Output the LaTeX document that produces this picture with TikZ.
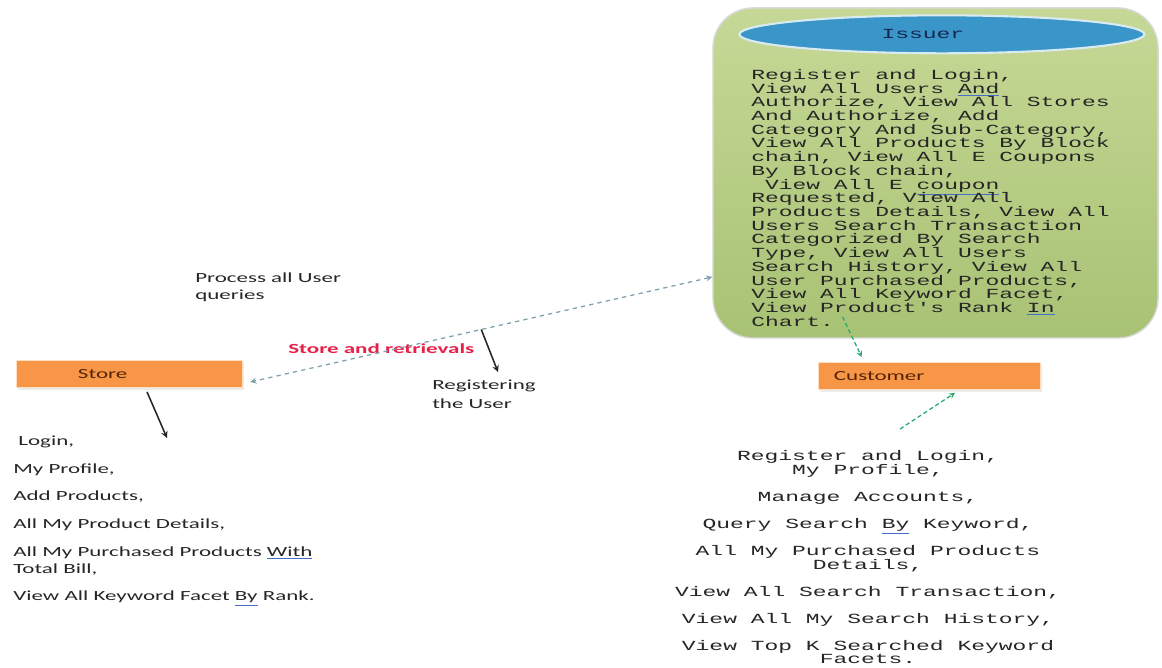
\documentclass[tikz,border=0pt]{standalone}
\usepackage{fontspec}
\newfontfamily\calfont{Carlito}[FakeStretch=1.65]
\newfontfamily\courfont{Liberation Mono}[FakeStretch=1.65]
\usetikzlibrary{calc, positioning, shapes.geometric, shadows}
\definecolor{roleorange}{RGB}{247,150,70}
\definecolor{roletext}{RGB}{85,35,5}
\definecolor{issuertop}{RGB}{198,216,150}
\definecolor{issuerbot}{RGB}{168,194,116}
\definecolor{headblue}{RGB}{58,150,200}
\definecolor{storered}{RGB}{232,32,72}
\definecolor{linkgray}{RGB}{125,160,172}
\definecolor{linkgreen}{RGB}{40,170,110}
\definecolor{markblue}{RGB}{70,110,200}
\newcommand\gmark[1]{\colorlet{gmsave}{.}\smash{\textcolor{markblue}{\underline{\textcolor{gmsave}{#1}}}}}
\tikzset{
issuerbox/.style={
	draw=gray!30,
	line width=1pt,
	rounded corners=1cm,
	top color=issuertop,
	bottom color=issuerbot,
	minimum width=11.125cm,
	minimum height=8.25cm,
},
issuerhead/.style={
	ellipse,
	draw={rgb,255:red,215;green,235;blue,240},
	line width=1.5pt,
	fill=headblue,
	inner sep=0pt,
	minimum width=10.125cm,
	minimum height=0.95cm,
	text={rgb,255:red,20;green,40;blue,80},
	font=\courfont\fontsize{9.9}{10}\selectfont,
},
rolebox/.style={
	fill=roleorange,
	draw=orange!25,
	inner xsep=0pt,
	inner ysep=0pt,
	align=left,
	minimum height=0.68cm,
	text=roletext,
	font=\calfont\fontsize{9.9}{11}\selectfont,
	drop shadow={shadow xshift=1.5pt, shadow yshift=-1.5pt, fill=gray!30},
},
monolist/.style={
	inner sep=0pt,
	text=black!85,
	font=\courfont\fontsize{9.9}{9.75}\selectfont,
},
note/.style={
	inner sep=0pt,
	align=left,
	text=black!85,
	font=\calfont\fontsize{9.9}{12.1}\selectfont,
},
arrowblack/.style={
	-stealth,
	line width=1.1pt,
	black!85,
},
linkdash/.style={
	stealth-stealth,
	dashed,
	line width=0.9pt,
	linkgray,
},
greendash/.style={
	-stealth,
	densely dashed,
	line width=0.9pt,
	linkgreen,
}
}

\begin{document}
\begin{tikzpicture}[x=0.025cm, y=-0.025cm]
		\useasboundingbox (0,0) rectangle (1162,668);
		% Issuer
		\node[issuerbox] (issuer) at (935.5,173) {};
		\node[issuerhead, below=0.175cm of issuer.north, xshift=0.16cm] (head) {Issuer\hspace*{0.95cm}};
		\node[monolist, align=left, anchor=north west] (issuerops) at (751,69) {Register and Login,\\
			View All Users \gmark{And}\\
			Authorize, View All Stores\\
			And Authorize, Add\\
			Category And Sub-Category,\\
			View All Products By Block\\
			chain, View All E Coupons\\
			By Block chain,\\
			~View All E \gmark{coupon}\\
			Requested, View All\\
			Products Details, View All\\
			Users Search Transaction\\
			Categorized By Search\\
			Type, View All Users\\
			Search History, View All\\
			User Purchased Products,\\
			View All Keyword Facet,\\
			View Product's Rank \gmark{In}\\
			Chart.};
		
		% Store
		\node[rolebox, text width=5.65cm] (store) at (129,374) {\hspace*{1.55cm}Store};
		\node[note, anchor=north west, font=\calfont\fontsize{9.9}{12.1}\selectfont] (storeops) at (13,436) {~Login,\\[7.5pt]
			My Profile,\\[7.5pt]
			Add Products,\\[7.5pt]
			All My Product Details,\\[7.5pt]
			All My Purchased Products \gmark{With}\\
			Total Bill,\\[7.5pt]
			View All Keyword Facet \gmark{By} Rank.};
		
		% Customer
		\node[rolebox, text width=5.55cm] (customer) at (929,376) {\hspace*{0.4cm}Customer};
		\node[monolist, align=center, anchor=north] (customerops) at (868,450) {Register and Login,\\
			My Profile,\\[9.5pt]
			Manage Accounts,\\[9.5pt]
			Query Search \gmark{By} Keyword,\\[9.5pt]
			All My Purchased Products\\
			Details,\\[9.5pt]
			View All Search Transaction,\\[9.5pt]
			View All My Search History,\\[9.5pt]
			View Top K Searched Keyword\\
			Facets.};
		
		% Labels
		\node[note, anchor=north west] (userqueries) at (195,273) {Process all User\\queries};
		\node[note, anchor=north west, text=storered, font=\calfont\bfseries\fontsize{9.9}{12.1}\selectfont] (storeretr) at (288,343) {Store and retrievals};
		\node[note, anchor=north west, font=\calfont\fontsize{9.9}{13}\selectfont] (reguser) at (432,380) {Registering\\the User};
		
		% Free ends
		\coordinate (storetip) at (167,438);
		\coordinate (regtip) at (498,372);
		\coordinate (custin) at (900,429);
		
		% Connections
		
		% Issuer <-> Store
		\draw[linkdash] ($(issuer.west)+(0,104)$) -- ($(store.east)+(8,8)$) coordinate[pos=0.5] (qmid);
		
		% Store ->
		\draw[arrowblack] ($(store.south)+(18,4)$) -- (storetip);
		
		% query line -> Registering
		\draw[arrowblack] (qmid) -- (regtip);
		
		% Issuer -> Customer
		\draw[greendash] ($(issuer.south)+(-93,-22)$) -- ($(customer.north west)+(44,-5)$);
		
		% Customer list -> Customer
		\draw[greendash] (custin) -- ($(customer.south)+(26,3)$);
	\end{tikzpicture}
\end{document}
